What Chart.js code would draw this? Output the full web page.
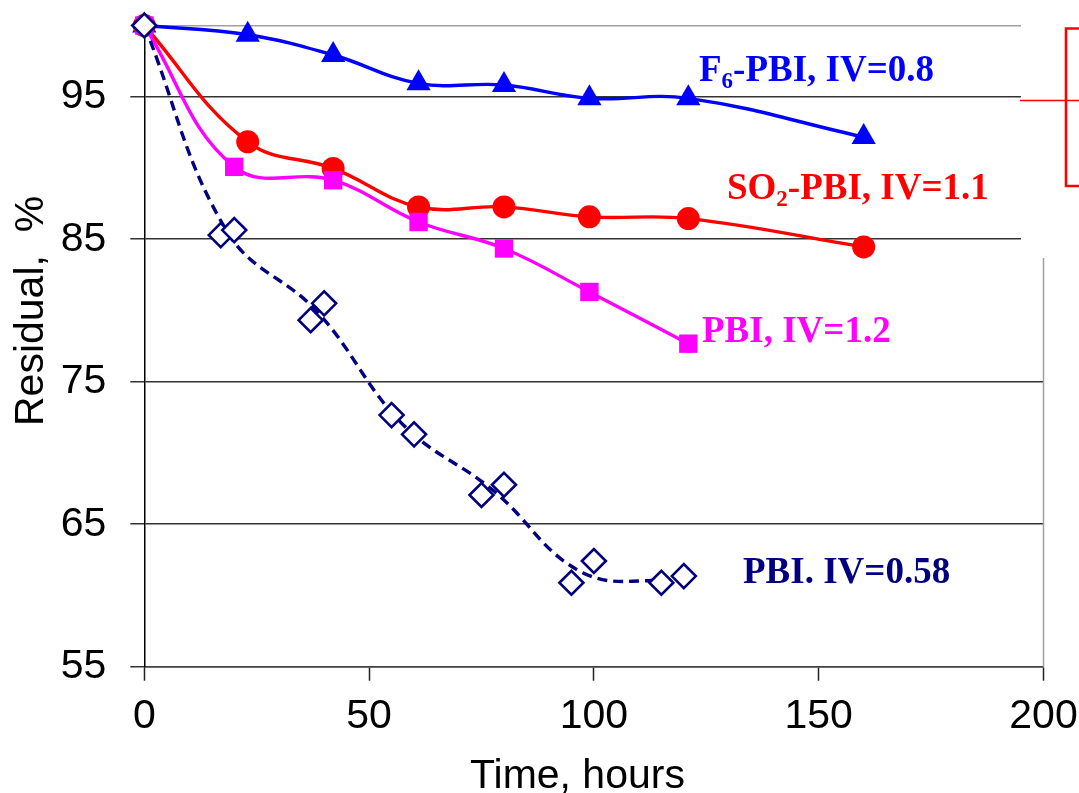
<!DOCTYPE html>
<html>
<head>
<meta charset="utf-8">
<script src="https://cdn.jsdelivr.net/npm/chart.js@4.4.0/dist/chart.umd.min.js"></script>
<style>
  html, body { margin: 0; padding: 0; background: #fff; }
  #wrap { width: 1079px; height: 793px; }
</style>
</head>
<body>
<div id="wrap"><canvas id="chartResidual"></canvas></div>
<script>
// residual weight vs. time, one pair of arrays per membrane
const timeF6 = [0, 23, 42, 61, 80, 99, 121, 160];
const resF6 = [100, 99.35, 97.93, 95.94, 95.82, 94.89, 94.89, 92.17];
const timeSO2 = [0, 23, 42, 61, 80, 99, 121, 160];
const resSO2 = [100, 91.84, 89.97, 87.27, 87.27, 86.57, 86.45, 84.46];
const timePBI12 = [0, 20, 42, 61, 80, 99, 121];
const resPBI12 = [100, 90.08, 89.14, 86.21, 84.35, 81.3, 77.67];
const timePBI058 = [0, 17, 20, 37, 40, 55, 60, 75, 80, 95, 100, 115, 120];
const resPBI058 = [100, 85.29, 85.64, 79.32, 80.5, 72.66, 71.31, 67.05, 67.77, 60.89, 62.42, 60.89, 61.36];
// dashed guide curve through the PBI IV=0.58 duplicates
const timeFit = [0, 18.5, 38.5, 57.5, 77.5, 97.5, 117.5];
const resFit = [100, 85.5, 79.9, 72.0, 67.4, 61.6, 61.0];

const xTicks = [0, 50, 100, 150, 200];
const yTicks = [55, 65, 75, 85, 95, 100];

const blue = '#0000ff';
const red = '#ff0000';
const magenta = '#ff00ff';
const navy = '#000080';
const sans = '"Liberation Sans", Arial, sans-serif';
const serif = '"Liberation Serif", "Times New Roman", serif';

const pts = (xs, ys) => xs.map((x, i) => ({ x: x, y: ys[i] }));

// keep the plot box fixed: no extra room for overhanging tick labels
const noOverhang = s => {
    s.paddingLeft = 0;
    s.paddingRight = 0;
    s.paddingTop = 0;
    s.paddingBottom = 0;
};

// curve names, axis titles and the cut-off box at the top right
const decor = {
    id: 'decor',
    afterDraw(chart) {
        const { ctx, chartArea: a } = chart;
        ctx.save();

        ctx.fillStyle = '#fff';
        ctx.fillRect(1021, 0, chart.width - 1021, 257);
        ctx.strokeStyle = '#a0a0a0';
        ctx.lineWidth = 1.5;
        ctx.beginPath();
        ctx.moveTo(a.right, 258);
        ctx.lineTo(a.right, a.bottom);
        ctx.stroke();

        ctx.strokeStyle = red;
        ctx.lineWidth = 1.3;
        ctx.beginPath();
        ctx.moveTo(1020, 100.5);
        ctx.lineTo(chart.width, 100.5);
        ctx.stroke();
        ctx.lineWidth = 2.6;
        ctx.beginPath();
        ctx.moveTo(chart.width, 28.5);
        ctx.lineTo(1066, 28.5);
        ctx.lineTo(1066, 186);
        ctx.lineTo(chart.width, 186);
        ctx.stroke();

        const label = (parts, x, y, color) => {
            ctx.fillStyle = color;
            ctx.textAlign = 'left';
            ctx.textBaseline = 'alphabetic';
            for (const [text, sub] of parts) {
                ctx.font = sub ? 'bold 23px ' + serif : 'bold 37px ' + serif;
                ctx.fillText(text, x, sub ? y + 7 : y);
                x += ctx.measureText(text).width;
            }
        };
        label([['F'], ['6', true], ['-PBI, IV=0.8']], 699, 81, blue);
        label([['SO'], ['2', true], ['-PBI, IV=1.1']], 727, 199, red);
        label([['PBI, IV=1.2']], 702, 342, magenta);
        label([['PBI. IV=0.58']], 743, 583, navy);

        ctx.fillStyle = '#000';
        ctx.font = '41px ' + sans;
        ctx.textAlign = 'left';
        ctx.fillText('Time, hours', 470, 788);
        ctx.translate(43, 426);
        ctx.rotate(-Math.PI / 2);
        ctx.fillText('Residual,  %', 0, 0);
        ctx.restore();
    }
};

new Chart(document.getElementById('chartResidual'), {
    type: 'line',
    data: {
        datasets: [
            {
                label: 'PBI. IV=0.58',
                data: pts(timePBI058, resPBI058),
                showLine: false,
                pointStyle: 'rectRot',
                pointRadius: 12,
                pointBorderWidth: 2.6,
                borderColor: navy,
                backgroundColor: '#fff',
                clip: false,
            },
            {
                label: 'PBI. IV=0.58 fit',
                data: pts(timeFit, resFit),
                borderColor: navy,
                borderWidth: 3.4,
                borderDash: [10, 6],
                pointRadius: 0,
                tension: 0.4,
                clip: false,
            },
            {
                label: 'PBI, IV=1.2',
                data: pts(timePBI12, resPBI12),
                borderColor: magenta,
                backgroundColor: magenta,
                borderWidth: 3.4,
                pointStyle: 'rect',
                pointRadius: 13,
                pointBorderWidth: 0,
                tension: 0.4,
                clip: false,
            },
            {
                label: 'SO2-PBI, IV=1.1',
                data: pts(timeSO2, resSO2),
                borderColor: red,
                backgroundColor: red,
                borderWidth: 3.4,
                pointStyle: 'circle',
                pointRadius: 11.5,
                pointBorderWidth: 0,
                tension: 0.4,
                clip: false,
            },
            {
                label: 'F6-PBI, IV=0.8',
                data: pts(timeF6, resF6),
                borderColor: blue,
                backgroundColor: blue,
                borderWidth: 3.4,
                pointStyle: 'triangle',
                pointRadius: 14,
                pointBorderWidth: 0,
                tension: 0.4,
                clip: false,
            }
        ]
    },
    options: {
        responsive: true,
        maintainAspectRatio: false,
        animation: false,
        layout: { padding: { top: 25.5, right: 35.5, bottom: 0, left: 0 } },
        plugins: {
            legend: { display: false },
            tooltip: { enabled: false }
        },
        scales: {
            x: {
                type: 'linear',
                min: 0,
                max: 200,
                afterBuildTicks: s => { s.ticks = xTicks.map(v => ({ value: v })); },
                afterFit: s => { s.height = 126.3; noOverhang(s); },
                grid: { drawOnChartArea: false, tickLength: 14, tickColor: '#222', tickWidth: 1.5 },
                border: { color: '#444', width: 1.5 },
                ticks: {
                    color: '#000',
                    font: { family: sans, size: 41 },
                    padding: 11,
                    maxRotation: 0,
                    autoSkip: false
                }
            },
            y: {
                min: 55,
                max: 100,
                afterBuildTicks: s => { s.ticks = yTicks.map(v => ({ value: v })); },
                afterFit: s => { s.width = 144.3; noOverhang(s); },
                grid: {
                    color: c => c.tick && c.tick.value === 100 ? '#a0a0a0' : '#333',
                    lineWidth: 1.5,
                    tickLength: 14,
                    tickColor: c => c.tick && c.tick.value === 100 ? 'rgba(0,0,0,0)' : '#333'
                },
                border: { color: '#000', width: 1.5 },
                ticks: {
                    color: '#000',
                    font: { family: sans, size: 41 },
                    padding: 24,
                    callback: v => v === 100 ? '' : v
                }
            }
        }
    },
    plugins: [decor]
});
</script>
</body>
</html>
